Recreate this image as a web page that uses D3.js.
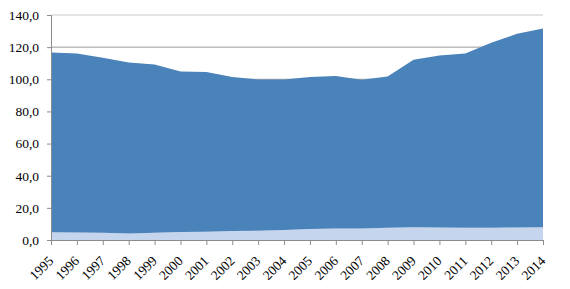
<!DOCTYPE html>
<html>
<head>
<meta charset="utf-8">
<script src="https://cdn.jsdelivr.net/npm/d3@7"></script>
<style>
  body { margin: 0; background: #fff; }
</style>
</head>
<body>
<svg id="chart" width="570" height="289"></svg>
<script>
'use strict';

var years = ['1995','1996','1997','1998','1999','2000','2001','2002','2003','2004',
             '2005','2006','2007','2008','2009','2010','2011','2012','2013','2014'];

// lower (light) series
var lowerValues = [4.8, 4.6, 4.5, 4.0, 4.5, 5.0, 5.2, 5.6, 5.8, 6.2,
                   6.8, 7.2, 7.2, 7.6, 8.0, 7.8, 7.6, 7.6, 7.8, 8.0];
// upper (dark) series, stacked on top of the lower one
var upperValues = [111.9, 111.5, 108.9, 106.5, 104.7, 99.9, 99.3, 95.8, 94.1, 93.7,
                   94.6, 94.8, 92.5, 94.2, 104.2, 107.0, 108.5, 115.1, 120.5, 123.6];

var yTicks = [0, 20, 40, 60, 80, 100, 120, 140];

var FONT = '"Liberation Serif", "Times New Roman", serif';
var margin = { top: 15, right: 27, bottom: 49, left: 51 };
var width = 570 - margin.left - margin.right;
var height = 289 - margin.top - margin.bottom;

var svg = d3.select('#chart');
var g = svg.append('g').attr('transform', 'translate(' + margin.left + ',' + margin.top + ')');

var xScale = d3.scalePoint().domain(years).range([0, width]);
var yScale = d3.scaleLinear().domain([0, 140]).range([height, 0]);

var rows = years.map(function(y, i) {
  return { year: y, lower: lowerValues[i], upper: upperValues[i] };
});
var stacked = d3.stack().keys(['lower', 'upper'])(rows);
var colors = { lower: '#c6d5ee', upper: '#4a82ba' };

// gridlines
g.selectAll('line.grid')
  .data(yTicks.slice(1))
  .enter().append('line')
  .attr('class', 'grid')
  .attr('x1', 0).attr('x2', width)
  .attr('y1', function(d) { return yScale(d); })
  .attr('y2', function(d) { return yScale(d); })
  .attr('stroke', function(d) { return d === 140 ? '#c8c8c8' : '#9a9a9a'; })
  .attr('stroke-width', 1);

var area = d3.area()
  .x(function(d) { return xScale(d.data.year); })
  .y0(function(d) { return yScale(d[0]); })
  .y1(function(d) { return yScale(d[1]); });

g.selectAll('path.layer')
  .data(stacked)
  .enter().append('path')
  .attr('class', 'layer')
  .attr('fill', function(d) { return colors[d.key]; })
  .attr('d', area);

// y axis
var yAxis = g.append('g')
  .call(d3.axisLeft(yScale).tickValues(yTicks).tickSize(4)
    .tickFormat(function(d) { return d3.format('.1f')(d).replace('.', ','); }));
yAxis.select('.domain').attr('stroke', '#8c8c8c');
yAxis.selectAll('.tick line').attr('stroke', '#8c8c8c');
yAxis.selectAll('text')
  .attr('x', -12)
  .style('font-family', FONT)
  .style('font-size', '13.5px')
  .style('fill', '#000');

// x axis
var xAxis = g.append('g')
  .attr('transform', 'translate(0,' + height + ')')
  .call(d3.axisBottom(xScale).tickSize(5).tickSizeOuter(0));
xAxis.select('.domain').attr('stroke', '#8c8c8c');
xAxis.selectAll('.tick line').attr('stroke', '#8c8c8c');
xAxis.selectAll('text')
  .attr('text-anchor', 'end')
  .attr('x', 0)
  .attr('y', 0)
  .attr('dy', '0.7em')
  .attr('transform', 'translate(-4,15) rotate(-45)')
  .style('font-family', FONT)
  .style('font-size', '13.5px')
  .style('fill', '#000');
</script>
</body>
</html>
